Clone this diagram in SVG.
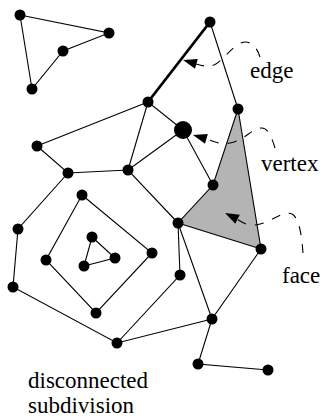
<svg xmlns="http://www.w3.org/2000/svg" width="322" height="420" viewBox="0 0 322 420">
<rect width="322" height="420" fill="#fff"/>
<g id="face-fill">
<polygon points="238,109 213,185 178,223 261,249" fill="#b4b4b4"/>
</g>
<g id="connectors" stroke="#000" stroke-width="1.1" fill="none">
<path d="M20,15 L109,33 L63,51 L32,89 Z"/>
<path d="M148,102 L210,22" stroke-width="2.8"/>
<path d="M210,22 L238,109"/>
<path d="M148,102 L37,146"/>
<path d="M148,102 L128,170"/>
<path d="M148,102 L183,130"/>
<path d="M183,130 L128,170"/>
<path d="M183,130 L213,185"/>
<path d="M238,109 L213,185 L178,223 L261,249 Z"/>
<path d="M37,146 L68,173 L128,170 L178,223"/>
<path d="M68,173 L18,229 L13,287 L117,343 L212,319"/>
<path d="M178,223 L180,275 L117,343"/>
<path d="M178,223 L212,319"/>
<path d="M261,249 L212,319 L198,364 L268,370"/>
<path d="M82,195 L152,253 L96,313 L46,260 Z"/>
<path d="M92,237 L115,258 L84,266 Z"/>
</g>
<g id="nodes" fill="#000">
<circle cx="20" cy="15" r="5.5"/>
<circle cx="109" cy="33" r="5.5"/>
<circle cx="63" cy="51" r="5.5"/>
<circle cx="32" cy="89" r="5.5"/>
<circle cx="148" cy="102" r="5.5"/>
<circle cx="210" cy="22" r="5.5"/>
<circle cx="238" cy="109" r="5.5"/>
<circle cx="183" cy="130" r="9"/>
<circle cx="37" cy="146" r="5.5"/>
<circle cx="68" cy="173" r="5.5"/>
<circle cx="128" cy="170" r="5.5"/>
<circle cx="213" cy="185" r="5.5"/>
<circle cx="178" cy="223" r="5.5"/>
<circle cx="261" cy="249" r="5.5"/>
<circle cx="82" cy="195" r="5.5"/>
<circle cx="18" cy="229" r="5.5"/>
<circle cx="152" cy="253" r="5.5"/>
<circle cx="46" cy="260" r="5.5"/>
<circle cx="92" cy="237" r="5.5"/>
<circle cx="115" cy="258" r="5.5"/>
<circle cx="84" cy="266" r="5.5"/>
<circle cx="180" cy="275" r="5.5"/>
<circle cx="13" cy="287" r="5.5"/>
<circle cx="96" cy="313" r="5.5"/>
<circle cx="117" cy="343" r="5.5"/>
<circle cx="212" cy="319" r="5.5"/>
<circle cx="198" cy="364" r="5.5"/>
<circle cx="268" cy="370" r="5.5"/>
</g>
<g id="annotations">
<g stroke="#000" stroke-width="1.1" fill="none" stroke-dasharray="9 9">
<path d="M260,57 C256,44 248,40 241,43 C230,48 224,60 214,65 C207,67 203,66 196,64"/>
<path d="M275,148 C272,138 268,128 262,128 C252,128 245,140 230,143 C220,145 213,141 206,139"/>
<path d="M303,253 C302,240 300,218 292,214 C282,210 270,224 255,225 C247,226 242,222 237,219"/>
</g>
<g fill="#000">
<path d="M183,60 L197.8,59.1 L195,68.7 Z"/>
<path d="M193,135 L207.8,134.1 L205,143.7 Z"/>
<path d="M225,213 L239.8,214.8 L235.3,223.7 Z"/>
</g>
</g>
<g id="labels" fill="#000">
<text x="250" y="78" style="font-family:'Liberation Serif',serif;font-size:23px">edge</text>
<text x="261" y="171" style="font-family:'Liberation Serif',serif;font-size:23px">vertex</text>
<text x="282" y="283" style="font-family:'Liberation Serif',serif;font-size:23px">face</text>
<text x="28" y="388" style="font-family:'Liberation Serif',serif;font-size:23px">disconnected</text>
<text x="28" y="413" style="font-family:'Liberation Serif',serif;font-size:23px">subdivision</text>
</g>
</svg>
